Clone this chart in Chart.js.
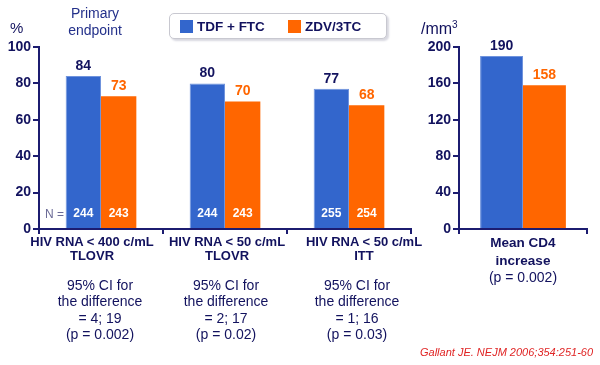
<!DOCTYPE html>
<html>
<head>
<meta charset="utf-8">
<script src="https://cdn.jsdelivr.net/npm/chart.js@4.4.1/dist/chart.umd.min.js"></script>
<style>
  body { margin: 0; background: #fff; font-family: Arial, "Liberation Sans", sans-serif; }
  #wrap { position: relative; width: 600px; height: 365px; overflow: hidden; }
  canvas { position: absolute; top: 0; }
  .t { position: absolute; color: #12125e; white-space: nowrap; text-align: center; }
  .cat { font-weight: bold; font-size: 13px; line-height: 14px; }
  .ci { font-size: 14px; line-height: 16.3px; }
  #legend { position: absolute; left: 169px; top: 13px; width: 216px; height: 24px;
            border: 1px solid #c8c8d0; border-radius: 5px; box-shadow: 2px 2px 2px #d8d8e0; background: #fff; }
  .lg { position: absolute; top: 5px; font-weight: bold; font-size: 13.5px; color: #12125e; }
  .sq { display: inline-block; width: 13px; height: 13px; vertical-align: -2px; margin-right: 4px; }
</style>
</head>
<body>
<div id="wrap">
  <canvas id="rnaChart" width="430" height="365" style="left:0"></canvas>
  <canvas id="cd4Chart" width="190" height="365" style="left:410px"></canvas>

  <div class="t" style="left:10px;top:19px;font-size:15px;">%</div>
  <div class="t" style="left:55px;top:5px;width:80px;font-size:14px;line-height:17px;color:#23308a;">Primary<br>endpoint</div>
  <div class="t" style="left:421px;top:19px;font-size:16px;">/mm<sup style="font-size:10px;">3</sup></div>
  <div id="legend"></div>
  <div class="t" style="left:45px;top:207px;font-size:12px;color:#6a6a96;">N =</div>
  <div id="labels"></div>
  <div class="t" style="left:420px;top:346px;font-size:11px;font-style:italic;color:#e02525;">Gallant JE. NEJM 2006;354:251-60</div>
</div>

<script>
// values
var seriesNames = ['TDF + FTC', 'ZDV/3TC'];
var seriesColors = ['#3366cc', '#ff6600'];

var rnaCategories = [['HIV RNA < 400 c/mL', 'TLOVR'], ['HIV RNA < 50 c/mL', 'TLOVR'], ['HIV RNA < 50 c/mL', 'ITT']];
var rnaTdf = [84, 80, 77];
var rnaZdv = [73, 70, 68];
var nTdf = [244, 244, 255];
var nZdv = [243, 243, 254];
var rnaTicks = [0, 20, 40, 60, 80, 100];

var cd4Categories = [['Mean CD4', 'increase', '(p = 0.002)']];
var cd4Tdf = [190];
var cd4Zdv = [158];
var cd4Ticks = [0, 40, 80, 120, 160, 200];

var ciNotes = [
    ['95% CI for', 'the difference', '= 4; 19', '(p = 0.002)'],
    ['95% CI for', 'the difference', '= 2; 17', '(p = 0.02)'],
    ['95% CI for', 'the difference', '= 1; 16', '(p = 0.03)']
];

var navy = '#12125e';
var axisColor = '#1c1c70';

// legend
var lg = document.getElementById('legend');
var lgLeft = [10, 118];
seriesNames.forEach(function (name, i) {
    var d = document.createElement('div');
    d.className = 'lg';
    d.style.left = lgLeft[i] + 'px';
    d.innerHTML = '<span class="sq" style="background:' + seriesColors[i] + '"></span>' + name;
    lg.appendChild(d);
});

// category labels + CI notes under the axes
var labelBox = document.getElementById('labels');
var catCenters = [92, 227, 364];
var ciCenters = [100, 226, 357];
function addText(cls, cx, top, w, lines) {
    var d = document.createElement('div');
    d.className = 't ' + cls;
    d.style.left = (cx - w / 2) + 'px';
    d.style.top = top + 'px';
    d.style.width = w + 'px';
    d.innerHTML = lines.map(function (s) { return s.replace(/</g, '&lt;'); }).join('<br>');
    labelBox.appendChild(d);
}
rnaCategories.forEach(function (c, i) {
    addText('cat', catCenters[i], 235, 140, c);
    addText('ci', ciCenters[i], 277, 120, ciNotes[i]);
});
var cd4Div = document.createElement('div');
cd4Div.className = 't';
cd4Div.style.cssText = 'left:463px;top:234px;width:120px;font-size:14px;line-height:16.5px;';
cd4Div.innerHTML = '<b style="font-size:13.5px">' + cd4Categories[0][0] + '<br>' + cd4Categories[0][1] + '</b><br>' + cd4Categories[0][2];
labelBox.appendChild(cd4Div);

// value labels above bars, N counts inside
var barLabels = {
    id: 'barLabels',
    afterDatasetsDraw: function (chart, args, opts) {
        var ctx = chart.ctx;
        ctx.save();
        ctx.textAlign = 'center';
        ctx.textBaseline = 'middle';
        chart.data.datasets.forEach(function (ds, di) {
            var meta = chart.getDatasetMeta(di);
            meta.data.forEach(function (bar, i) {
                ctx.font = 'bold 14px Arial, "Liberation Sans"';
                ctx.fillStyle = di === 0 ? navy : '#ff6600';
                ctx.fillText(ds.data[i], bar.x, bar.y - 10);
                if (ds.counts) {
                    ctx.font = 'bold 12px Arial, "Liberation Sans"';
                    ctx.fillStyle = '#fff';
                    ctx.fillText(ds.counts[i], bar.x, chart.chartArea.bottom - 15);
                }
            });
        });
        ctx.restore();
    }
};

function makeChart(id, labels, a, b, ticks, opt) {
    var ctx = document.getElementById(id);
    return new Chart(ctx, {
        type: 'bar',
        data: {
            labels: labels,
            datasets: [
                { label: seriesNames[0], data: a, counts: opt.countsA, backgroundColor: seriesColors[0],
                  borderColor: '#6f93dd', borderWidth: 1, borderSkipped: 'bottom' },
                { label: seriesNames[1], data: b, counts: opt.countsB, backgroundColor: seriesColors[1], borderWidth: 0 }
            ]
        },
        options: {
            responsive: false,
            animation: false,
            categoryPercentage: opt.catPct,
            barPercentage: 1.0,
            layout: { padding: { top: 47, left: 0, right: opt.padRight, bottom: 0 } },
            plugins: { legend: { display: false }, tooltip: { enabled: false } },
            scales: {
                x: {
                    ticks: { display: false },
                    grid: { offset: true, drawOnChartArea: false, drawTicks: true, tickLength: 5, tickColor: axisColor, lineWidth: 2 },
                    border: { color: axisColor, width: 2 },
                    afterFit: function (s) { s.height = 136; }
                },
                y: {
                    min: 0, max: ticks[ticks.length - 1],
                    afterBuildTicks: function (s) { s.ticks = ticks.map(function (v) { return { value: v }; }); },
                    ticks: { color: navy, font: { family: 'Arial, "Liberation Sans"', size: 14, weight: 'bold' }, padding: 2 },
                    grid: { drawOnChartArea: false, tickLength: 6, tickColor: axisColor, lineWidth: 2 },
                    border: { color: axisColor, width: 2 },
                    afterFit: function (s) { s.width = opt.yWidth; }
                }
            }
        },
        plugins: [barLabels]
    });
}

makeChart('rnaChart', rnaCategories, rnaTdf, rnaZdv, rnaTicks,
    { catPct: 0.57, padRight: 19, yWidth: 39, countsA: nTdf, countsB: nZdv });
// second canvas starts at x=410, so the axis at 459 is 49 in
makeChart('cd4Chart', cd4Categories, cd4Tdf, cd4Zdv, cd4Ticks,
    { catPct: 0.67, padRight: 13, yWidth: 49 });
</script>
</body>
</html>
